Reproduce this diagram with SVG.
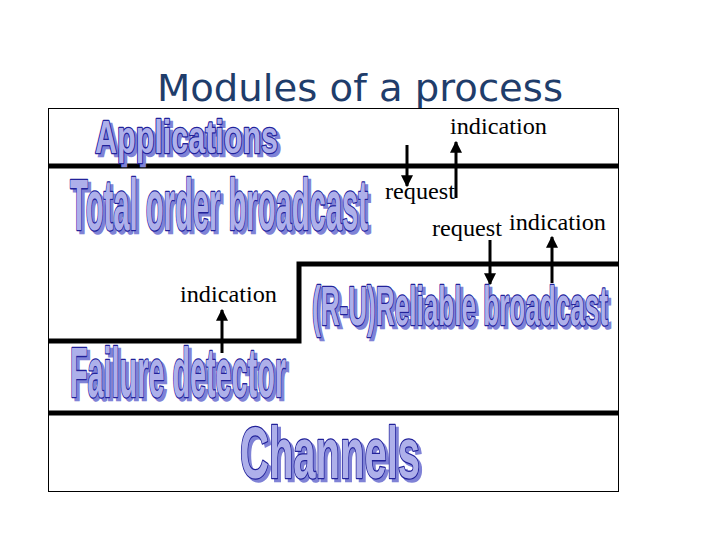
<svg xmlns="http://www.w3.org/2000/svg" width="720" height="540" viewBox="0 0 720 540">
<defs>
<marker id="ah" viewBox="0 0 10 10" refX="9" refY="5" markerWidth="4" markerHeight="4" orient="auto"><path d="M0,0L10,5L0,10z" fill="#000"/></marker>
</defs>
<style>
.big{font-family:"Liberation Sans",Arial,sans-serif;font-weight:bold;fill:#aeb0ea;stroke:#22229a;stroke-width:2.6;paint-order:stroke;stroke-linejoin:round}
.sh{font-family:"Liberation Sans",Arial,sans-serif;font-weight:bold;fill:#7f82d6;stroke:#7f82d6;stroke-width:2.6}
.lbl{font-family:"Liberation Serif","Times New Roman",serif;font-size:23px;fill:#000}
.thick{stroke:#000;stroke-width:5;fill:none}
.arr{stroke:#000;stroke-width:3;marker-end:url(#ah)}
</style>
<rect width="720" height="540" fill="#fff"/>
<text x="360" y="101" text-anchor="middle" font-family="DejaVu Sans,sans-serif" font-size="38" fill="#1f3d6b" textLength="406" lengthAdjust="spacingAndGlyphs">Modules of a process</text>
<rect x="48.5" y="108.5" width="570" height="383" fill="none" stroke="#000" stroke-width="1"/>
<g id="layers">
<path class="thick" d="M48,166H619"/>
<path class="thick" d="M48,341H299V264H619"/>
<path class="thick" d="M48,413H619"/>
</g>
<g id="n-applications"><text class="sh" x="98" y="156" font-size="46" textLength="183" lengthAdjust="spacingAndGlyphs">Applications</text><text class="big" x="95" y="153" font-size="46" textLength="183" lengthAdjust="spacingAndGlyphs">Applications</text></g>
<g id="n-tob"><text class="sh" x="73" y="233" font-size="72" textLength="298" lengthAdjust="spacingAndGlyphs">Total order broadcast</text><text class="big" x="70" y="230" font-size="72" textLength="298" lengthAdjust="spacingAndGlyphs">Total order broadcast</text></g>
<g id="n-rb"><text class="sh" x="315" y="328" font-size="56" textLength="296" lengthAdjust="spacingAndGlyphs">(R-U)Reliable broadcast</text><text class="big" x="312" y="325" font-size="56" textLength="296" lengthAdjust="spacingAndGlyphs">(R-U)Reliable broadcast</text></g>
<g id="n-fd"><text class="sh" x="73" y="400" font-size="70" textLength="216" lengthAdjust="spacingAndGlyphs">Failure detector</text><text class="big" x="70" y="397" font-size="70" textLength="216" lengthAdjust="spacingAndGlyphs">Failure detector</text></g>
<g id="n-ch"><text class="sh" x="243" y="481" font-size="72" textLength="180" lengthAdjust="spacingAndGlyphs">Channels</text><text class="big" x="240" y="478" font-size="72" textLength="180" lengthAdjust="spacingAndGlyphs">Channels</text></g>
<g id="connectors">
<line class="arr" x1="407" y1="145" x2="407" y2="186"/>
<line class="arr" x1="456" y1="198" x2="456" y2="142"/>
<line class="arr" x1="490" y1="240" x2="490" y2="284"/>
<line class="arr" x1="552" y1="283" x2="552" y2="237"/>
<line class="arr" x1="222" y1="353" x2="222" y2="310"/>
</g>
<g id="labels">
<text class="lbl" x="450" y="134" textLength="97" lengthAdjust="spacingAndGlyphs">indication</text>
<text class="lbl" x="385" y="199" textLength="70" lengthAdjust="spacingAndGlyphs">request</text>
<text class="lbl" x="432" y="236" textLength="70" lengthAdjust="spacingAndGlyphs">request</text>
<text class="lbl" x="509" y="230" textLength="97" lengthAdjust="spacingAndGlyphs">indication</text>
<text class="lbl" x="180" y="302" textLength="97" lengthAdjust="spacingAndGlyphs">indication</text>
</g>
</svg>
